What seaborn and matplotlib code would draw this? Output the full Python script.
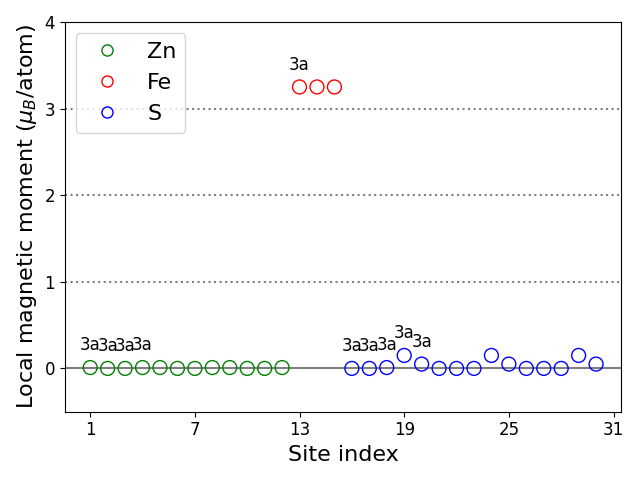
import matplotlib
matplotlib.use("Agg")
import matplotlib.pyplot as plt
import seaborn as sns
import pandas as pd
from matplotlib.lines import Line2D

zn_sites = list(range(1, 13))
zn_moments = [0.01, 0.0, 0.0, 0.01, 0.01, 0.0, 0.0, 0.01, 0.01, 0.0, 0.0, 0.01]
fe_sites = [13, 14, 15]
fe_moments = [3.25, 3.25, 3.25]
s_sites = list(range(16, 31))
s_moments = [0.0, 0.0, 0.01, 0.15, 0.05, 0.0, 0.0, 0.0, 0.15, 0.05, 0.0, 0.0, 0.0, 0.15, 0.05]
label_sites = [1, 2, 3, 4, 13, 16, 17, 18, 19, 20]
label_text = "3a"
xticks = [1, 7, 13, 19, 25, 31]

df = pd.DataFrame({
    "site": zn_sites + fe_sites + s_sites,
    "moment": zn_moments + fe_moments + s_moments,
    "element": ["Zn"] * len(zn_sites) + ["Fe"] * len(fe_sites) + ["S"] * len(s_sites),
})

plt.rcParams['font.family'] = ['DejaVu Sans']
fig, ax = plt.subplots(figsize=(6.4, 4.8), dpi=100)

for yv in [1, 2, 3]:
    ax.axhline(yv, color="grey", linestyle=":", linewidth=1.5, zorder=0)
ax.axhline(0, color="grey", linestyle="-", linewidth=1.5, zorder=0)

colors = {"Zn": "green", "Fe": "red", "S": "blue"}
sns.scatterplot(data=df, x="site", y="moment", hue="element",
                palette=colors, s=100, ax=ax, legend=False, zorder=3)
coll = ax.collections[0]
coll.set_facecolor("none")
coll.set_edgecolor([colors[e] for e in df["element"]])
coll.set_linewidth(1.0)

lookup = dict(zip(df["site"], df["moment"]))
for s in label_sites:
    ax.text(s, lookup[s] + 0.2, label_text, ha="center", va="baseline", fontsize=12)

handles = [Line2D([], [], marker="o", linestyle="none", markerfacecolor="none",
                  markeredgecolor=colors[k], markersize=8) for k in ["Zn", "Fe", "S"]]
ax.legend(handles, ["Zn", "Fe", "S"], loc="upper left", fontsize=16)

ax.set_xticks(xticks)
ax.set_ylim(-0.5, 4)
ax.set_yticks([0, 1, 2, 3, 4])
ax.tick_params(labelsize=12)
ax.set_xlabel("Site index", fontsize=16)
ax.set_ylabel(r"Local magnetic moment ($\mu_B$/atom)", fontsize=16)
fig.tight_layout()
fig.savefig("out.png", dpi=100)
